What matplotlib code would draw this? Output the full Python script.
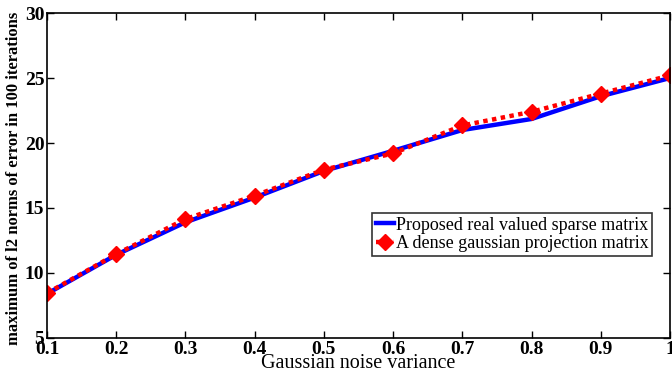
import matplotlib
matplotlib.use("Agg")
import matplotlib.pyplot as plt

noise_var = [0.1, 0.2, 0.3, 0.4, 0.5, 0.6, 0.7, 0.8, 0.9, 1.0]
sparse_err = [8.4, 11.4, 13.9, 15.8, 17.85, 19.4, 21.0, 21.85, 23.6, 25.0]
dense_err = [8.45, 11.45, 14.15, 15.95, 17.95, 19.2, 21.35, 22.4, 23.8, 25.2]

xticks = [0.1, 0.2, 0.3, 0.4, 0.5, 0.6, 0.7, 0.8, 0.9, 1.0]
xticklabels = ["0.1", "0.2", "0.3", "0.4", "0.5", "0.6", "0.7", "0.8", "0.9", "1"]
yticks = [5, 10, 15, 20, 25, 30]

plt.rcParams["font.family"] = ["Liberation Serif", "DejaVu Serif"]

fig = plt.figure(figsize=(6.72, 3.73), dpi=100)
ax = fig.add_axes([0.070, 0.094, 0.927, 0.871])

ax.plot(noise_var, sparse_err, color="blue", linewidth=3.2,
        label="Proposed real valued sparse matrix")
ax.plot(noise_var, dense_err, color="red", linewidth=3.2, linestyle=(0, (1, 1)),
        marker="D", markersize=8, label="A dense gaussian projection matrix")

ax.set_xlim(0.1, 1.0)
ax.set_ylim(5, 30)
ax.set_xticks(xticks)
ax.set_xticklabels(xticklabels)
ax.set_yticks(yticks)
ax.tick_params(direction="in", top=True, right=True, length=5, width=1,
               labelsize=14, pad=2)
for lab in ax.get_xticklabels() + ax.get_yticklabels():
    lab.set_fontweight("bold")
for sp in ax.spines.values():
    sp.set_linewidth(1.2)

ax.set_xlabel("Gaussian noise variance", fontsize=14.5, labelpad=-3)
ax.set_ylabel("maximum of l2 norms of error in 100 iterations", fontsize=12,
              fontweight="bold")
ax.yaxis.set_label_coords(-0.04, 0.49)

leg = ax.legend(loc="lower right", bbox_to_anchor=(0.971, 0.252), fontsize=13,
                frameon=True, fancybox=False, edgecolor="black",
                handlelength=1.0, handletextpad=0.1, borderpad=0.2,
                labelspacing=0.1, borderaxespad=0)
leg.get_frame().set_linewidth(1.2)

fig.savefig("out.png", dpi=100)
